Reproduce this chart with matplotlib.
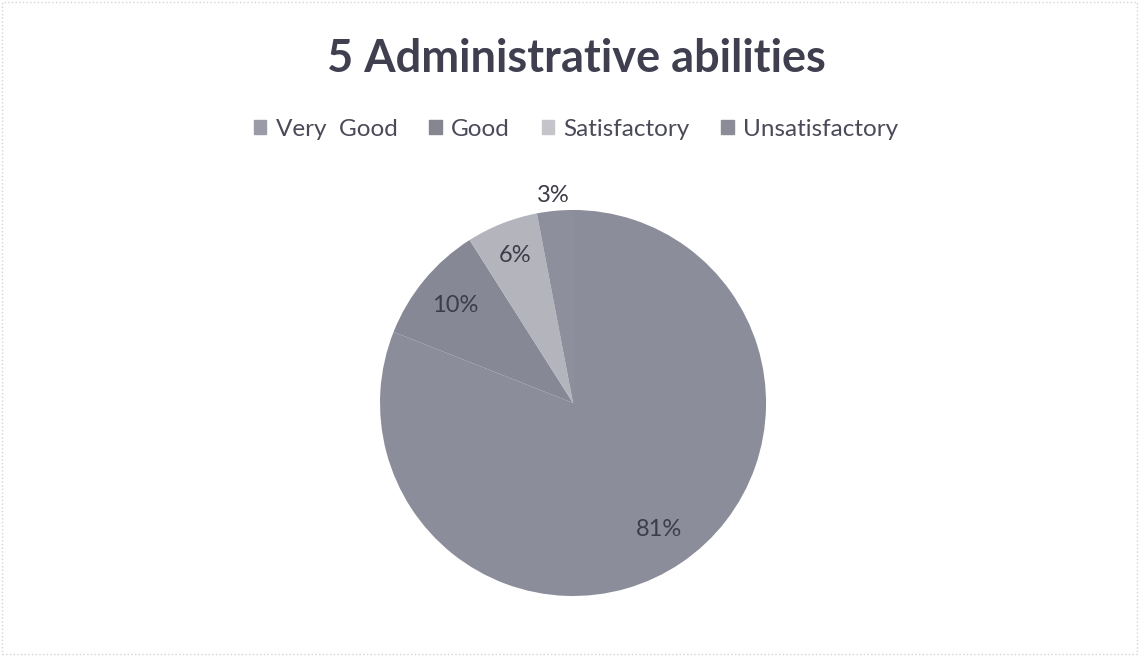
import numpy as np
import matplotlib.pyplot as plt
from matplotlib.patches import Rectangle

# data
categories = ['Very  Good', 'Good', 'Satisfactory', 'Unsatisfactory']
shares = [81, 10, 6, 3]
colors = ['#8c8d9a', '#878895', '#b3b4bc', '#8e8f9c']
legend_colors = ['#9a9ba6', '#85868f', '#c4c4ca', '#8b8c97']

plt.rcParams['font.family'] = ['Lato', 'DejaVu Sans']

fig = plt.figure(figsize=(11.39, 6.56), dpi=100)
ax = fig.add_axes([0.2828, 0.0032, 0.4406, 0.765])

wedges, texts, autotexts = ax.pie(shares, colors=colors, startangle=90, counterclock=False,
                                  autopct='%1.0f%%', pctdistance=0.8,
                                  textprops={'fontsize': 17, 'color': '#3c3c4a'})
# the small slice gets its label outside the pie
dists = [0.79, 0.79, 0.82, 1.08]
for w, t, d in zip(wedges, autotexts, dists):
    ang = np.deg2rad((w.theta1 + w.theta2) / 2)
    t.set_position((d * np.cos(ang), d * np.sin(ang)))
ax.set_xlim(-1.3, 1.3)
ax.set_ylim(-1.3, 1.3)
ax.set_aspect('equal')

fig.text(0.506, 0.91, '5 Administrative abilities', ha='center', va='center',
         fontsize=32.5, fontweight='bold', color='#3f3f4f')

handles = [Rectangle((0, 0), 1, 1, color=c) for c in legend_colors]
fig.legend(handles, categories, loc='center', bbox_to_anchor=(0.506, 0.803), ncol=4,
           frameon=False, fontsize=17.5, labelcolor='#4a4a58', handlelength=0.5,
           handleheight=0.5, handletextpad=0.4, columnspacing=1.3)

# faint chart border
fig.add_artist(Rectangle((0.002, 0.003), 0.996, 0.994, transform=fig.transFigure,
                         fill=False, edgecolor='#d4d4d8', linewidth=1, linestyle=':'))

plt.savefig('out.png', dpi=100)
